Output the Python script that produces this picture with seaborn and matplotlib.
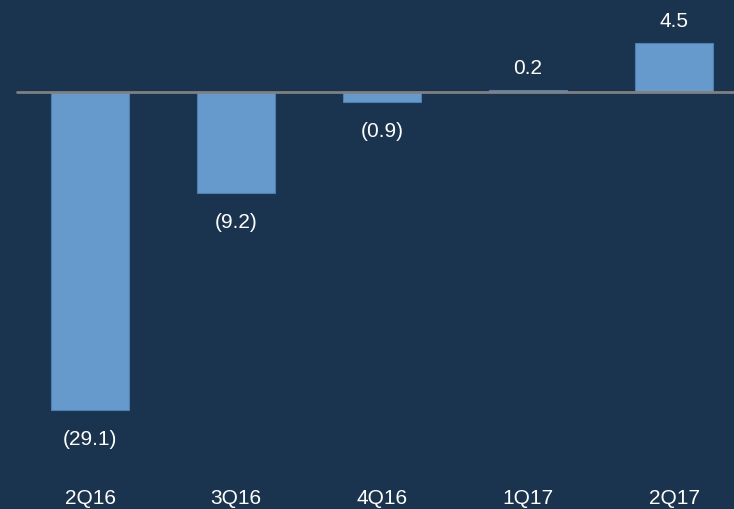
import matplotlib
matplotlib.use("Agg")
import matplotlib.pyplot as plt
import seaborn as sns
import pandas as pd

categories = ["2Q16", "3Q16", "4Q16", "1Q17", "2Q17"]
values = [-29.1, -9.2, -0.9, 0.2, 4.5]
labels = ["(29.1)", "(9.2)", "(0.9)", "0.2", "4.5"]

BG = "#1a334e"
BAR = "#6699cc"

sns.set_style("white")
plt.rcParams['font.family'] = ['Liberation Sans', 'DejaVu Sans']

fig = plt.figure(figsize=(7.34, 5.09), dpi=100, facecolor=BG)
H = 509.0
ax = fig.add_axes([0, 1 - 480 / H, 1, 480 / H])
ax.set_facecolor(BG)

df = pd.DataFrame({"cat": categories, "val": values})
sns.barplot(data=df, x="cat", y="val", color=BAR, saturation=1, width=0.534,
            edgecolor="#4f7fb0", linewidth=0.8, ax=ax)

ppu = 10.93
ax.set_ylim(-(480 - 92) / ppu, 92 / ppu)
ax.set_xlim((0 - 90) / 146, (734 - 90) / 146)
ax.axhline(0, xmin=(17) / 734, xmax=1, color="#808080", lw=2, zorder=3)

FS = 15
for i, (v, lab) in enumerate(zip(values, labels)):
    if v >= 0:
        ax.annotate(lab, (i, v), xytext=(0, 11.5), textcoords="offset points",
                    ha="center", va="baseline", color="white", fontsize=FS)
    else:
        ax.annotate(lab, (i, v), xytext=(0, -25.2), textcoords="offset points",
                    ha="center", va="baseline", color="white", fontsize=FS)

ax.set_xlabel("")
ax.set_ylabel("")
ax.set_yticks([])
ax.tick_params(axis="x", length=0, pad=6.5, colors="white", labelsize=FS)
for s in ax.spines.values():
    s.set_visible(False)

fig.savefig("out.png", dpi=100, facecolor=BG)
